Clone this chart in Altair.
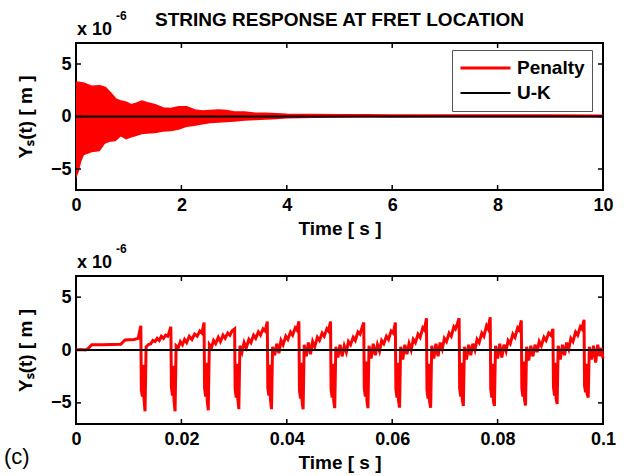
import altair as alt
import pandas as pd

# ---------------- data ----------------
# top panel: envelope of the dense Penalty oscillation (x 1e-6 m)
top_t = [0, 0.05, 0.1, 0.15, 0.3, 0.45, 0.55, 0.65, 0.75, 0.85, 0.95,
         1.05, 1.15, 1.25, 1.35, 1.5, 1.65, 1.8, 1.95,
         2.1, 2.25, 2.4, 2.55, 2.7, 2.85,
         3.0, 3.2, 3.4, 3.6, 3.8,
         4.0, 4.5, 5.0, 5.5, 6.0, 7.0, 8.0, 9.0, 10.0]
top_upper = [3.2, 3.2, 3.15, 3.1, 2.8, 2.85, 2.7, 2.2, 1.6, 1.4, 1.3,
             1.05, 1.2, 1.4, 1.25, 1.05, 0.75, 0.7, 0.85,
             0.85, 0.55, 0.45, 0.5, 0.55, 0.5,
             0.35, 0.35, 0.25, 0.25, 0.2,
             0.15, 0.13, 0.1, 0.1, 0.08, 0.07, 0.06, 0.06, 0.05]
top_lower = [-5.9, -5.3, -4.3, -3.7, -3.4, -3.3, -2.6, -2.4, -2.35, -1.9, -2.2,
             -2.0, -1.85, -1.7, -1.65, -1.6, -1.45, -1.4, -1.25,
             -1.0, -0.9, -0.75, -0.65, -0.6, -0.55,
             -0.5, -0.4, -0.35, -0.3, -0.25,
             -0.2, -0.15, -0.12, -0.1, -0.1, -0.08, -0.07, -0.06, -0.06]

# U-K solution (zero response)
uk_top_t = [0, 10]
uk_top_y = [0, 0]
uk_bot_t = [0, 0.1]
uk_bot_y = [0, 0]

# bottom panel: Penalty response, first 0.1 s (time in ms, value x 1e-6 m)
bot_t_ms = [
    0, 1.0, 1.8, 2.2, 3.0, 5.0, 8.5, 9.3, 11.0, 11.8,
    12.3, 12.4, 12.6, 12.75, 12.9, 13.1, 13.3, 13.7, 14.2, 14.6, 15.0, 15.4, 15.8, 16.2, 16.6, 17.0, 17.4, 17.7,
    18.0, 18.1, 18.3, 18.45, 18.6, 18.8, 19.0, 19.4, 19.8, 20.2, 20.6, 21.0, 21.5, 22.0, 22.5, 23.0, 23.5, 23.9,
    24.3, 24.4, 24.6, 24.75, 24.9, 25.1, 25.3, 25.7, 26.1, 26.5, 27.0, 27.4, 27.9, 28.3, 28.8, 29.2, 29.6,
    30.1, 30.2, 30.4, 30.55, 30.7, 30.9, 31.1, 31.5, 31.9, 32.3, 32.8, 33.2, 33.7, 34.1, 34.6, 35.0, 35.5, 35.9,
    36.3, 36.4, 36.6, 36.75, 36.9, 37.1, 37.3, 37.7, 38.1, 38.5, 38.9, 39.3, 39.8, 40.2, 40.7, 41.1, 41.6, 41.9,
    42.3, 42.4, 42.6, 42.75, 42.9, 43.1, 43.3, 43.7, 44.1, 44.5, 44.9, 45.3, 45.8, 46.2, 46.7, 47.1, 47.6, 47.9,
    48.3, 48.4, 48.6, 48.75, 48.9, 49.1, 49.3, 49.7, 50.1, 50.5, 50.9, 51.3, 51.7, 52.1, 52.6, 53.0, 53.5, 53.9, 54.2,
    54.6, 54.7, 54.9, 55.05, 55.2, 55.4, 55.6, 56.0, 56.4, 56.8, 57.2, 57.6, 58.0, 58.4, 58.9, 59.3, 59.8, 60.2,
    60.6, 60.7, 60.9, 61.05, 61.2, 61.4, 61.6, 62.0, 62.4, 62.8, 63.2, 63.6, 64.0, 64.4, 64.9, 65.3, 65.8, 66.1,
    66.5, 66.6, 66.8, 66.95, 67.1, 67.3, 67.5, 67.9, 68.3, 68.7, 69.1, 69.5, 69.9, 70.3, 70.8, 71.2, 71.7, 72.0, 72.3,
    72.7, 72.8, 73.0, 73.15, 73.3, 73.5, 73.7, 74.1, 74.5, 74.9, 75.3, 75.7, 76.1, 76.5, 77.0, 77.4, 77.9, 78.2,
    78.6, 78.7, 78.9, 79.05, 79.2, 79.4, 79.6, 80.0, 80.4, 80.8, 81.2, 81.6, 82.0, 82.4, 82.9, 83.3, 83.8, 84.1,
    84.5, 84.6, 84.8, 84.95, 85.1, 85.3, 85.5, 85.9, 86.3, 86.7, 87.1, 87.5, 87.9, 88.3, 88.8, 89.2, 89.7, 90.1,
    90.5, 90.6, 90.8, 90.95, 91.1, 91.3, 91.5, 91.9, 92.3, 92.7, 93.1, 93.5, 93.9, 94.3, 94.8, 95.2, 95.7, 96.0,
    96.4, 96.5, 96.7, 96.85, 97.0, 97.2, 97.4, 97.8, 98.2, 98.6, 99.0, 99.4, 99.7, 100.0,
]
bot_y = [
    0, 0.05, 0.0, 0.1, 0.5, 0.5, 0.55, 0.95, 1.0, 1.1,
    2.3, -3.8, -4.4, -1.4, -4.6, -5.8, 0.3, 0.5, 0.6, 0.9, 0.8, 1.1, 0.9, 1.3, 1.1, 1.4, 1.3, 1.7,
    2.2, -3.5, -4.3, -1.5, -4.8, -5.8, 0.4, 0.2, 0.8, 0.5, 1.0, 0.7, 1.3, 1.0, 1.5, 1.3, 1.8, 1.6,
    2.6, -3.6, -4.4, -1.2, -4.8, -5.7, 0.5, 0.2, 0.9, 0.6, 1.2, 0.8, 1.4, 1.1, 1.6, 1.4, 1.8,
    2.0, -3.7, -4.5, -1.3, -4.6, -5.6, 0.4, -0.2, 0.7, 0.2, 1.0, 0.7, 1.4, 1.1, 1.7, 1.4, 2.0, 1.8,
    2.7, -3.6, -4.3, -1.4, -4.7, -5.6, 0.3, -0.5, 0.6, -0.3, 0.9, 0.5, 1.3, 1.0, 1.7, 1.4, 2.1, 1.9,
    2.7, -3.8, -4.6, -1.2, -4.9, -5.6, 0.5, -0.6, 0.7, -0.4, 0.8, 0.3, 1.2, 0.9, 1.6, 1.3, 2.0, 1.8,
    2.7, -3.7, -4.5, -1.3, -4.8, -5.5, 0.3, -0.7, 0.5, -0.6, 0.4, -0.2, 0.8, 0.5, 1.2, 0.9, 1.7, 1.5, 2.0,
    2.6, -3.6, -4.4, -1.1, -4.8, -5.5, 0.4, -0.8, 0.6, -0.5, 0.5, -0.1, 0.9, 0.6, 1.3, 1.0, 1.8, 1.6,
    2.6, -3.7, -4.5, -1.2, -4.8, -5.45, 0.3, -0.9, 0.5, -0.4, 0.6, 0.0, 1.0, 0.7, 1.5, 1.2, 2.1, 1.9,
    3.0, -3.8, -4.6, -1.3, -4.9, -5.45, 0.4, -0.8, 0.6, -0.6, 0.7, 0.1, 1.1, 0.8, 1.6, 1.3, 2.2, 2.0, 2.4,
    3.0, -3.6, -4.4, -1.2, -4.7, -5.3, 0.3, -0.9, 0.5, -0.5, 0.6, 0.0, 1.0, 0.7, 1.6, 1.3, 2.3, 2.0,
    3.1, -3.7, -4.5, -1.3, -4.8, -5.3, 0.4, -0.8, 0.6, -0.7, 0.5, -0.1, 0.9, 0.6, 1.5, 1.2, 2.1, 1.9,
    2.8, -3.6, -4.4, -1.1, -4.7, -5.25, 0.3, -1.0, 0.4, -0.6, 0.5, -0.2, 0.8, 0.4, 1.2, 0.9, 1.6, 1.4,
    2.0, -3.5, -4.3, -1.2, -4.6, -5.1, 0.4, -0.9, 0.5, -0.5, 0.7, 0.1, 1.1, 0.8, 1.7, 1.4, 2.2, 2.0,
    2.85, -3.4, -4.0, -1.3, -4.2, -4.5, 0.3, -0.9, 0.4, -1.2, 0.5, -0.6, 0.2, -0.8,
]

series_names = ["Penalty", "U-K"]
series_colors = ["#ff0000", "#000000"]
series_widths = [3, 2]

top_xticks = [0, 2, 4, 6, 8, 10]
bot_xticks = [0, 0.02, 0.04, 0.06, 0.08, 0.1]
yticks = [-5, 0, 5]
scale_label = ["x 10"]
scale_exp = ["-6"]
title_text = ["STRING RESPONSE AT FRET LOCATION"]
xtitle = "Time [ s ]"
ytitle = "Y\u209b(t) [ m ]"
panel_tag = ["(c)"]

# ---------------- layout constants ----------------
W = 527
H1 = 147
H2 = 148
GAP = 86
FONT = "Liberation Sans"
TL = 5  # inward tick length

ys = alt.Scale(domain=[-7, 7], nice=False, zero=False)


def x_axis(vals, fmt):
    return alt.Axis(values=vals, format=fmt, title=xtitle, ticks=False, domain=False,
                    grid=False, labelFont=FONT, labelFontSize=18, labelFontWeight="bold",
                    labelColor="black", labelPadding=6, labelFlush=False,
                    titleFont=FONT, titleFontSize=19, titleFontWeight="bold",
                    titleColor="black", titlePadding=5)


y_axis = alt.Axis(values=yticks, title=ytitle, ticks=False, domain=False, grid=False,
                  labelFont=FONT, labelFontSize=18, labelFontWeight="bold",
                  labelColor="black", labelPadding=5, labelFlush=False,
                  titleFont=FONT, titleFontSize=19, titleFontWeight="bold",
                  titleColor="black", titlePadding=15)


def tick_layers(xvals, xs, H, xax):
    dfx = pd.DataFrame({"t": xvals[1:-1]})
    dfy = pd.DataFrame({"y": yticks})
    bt = alt.Chart(dfx).mark_rule(color="black", strokeWidth=1.5).encode(
        x=alt.X("t:Q", scale=xs, axis=xax), y=alt.value(H), y2=alt.value(H - TL))
    tt = alt.Chart(dfx).mark_rule(color="black", strokeWidth=1.5).encode(
        x=alt.X("t:Q", scale=xs, axis=xax), y=alt.value(0), y2=alt.value(TL))
    lt = alt.Chart(dfy).mark_rule(color="black", strokeWidth=1.5).encode(
        y=alt.Y("y:Q", scale=ys, axis=y_axis), x=alt.value(0), x2=alt.value(TL))
    rt = alt.Chart(dfy).mark_rule(color="black", strokeWidth=1.5).encode(
        y=alt.Y("y:Q", scale=ys, axis=y_axis), x=alt.value(W - TL), x2=alt.value(W))
    return [bt, tt, lt, rt]


def exp_layers():
    a = alt.Chart(pd.DataFrame({"s": scale_label})).mark_text(
        font=FONT, fontSize=18, fontWeight="bold", align="left", baseline="alphabetic",
        color="black").encode(text="s:N", x=alt.value(1), y=alt.value(-8))
    b = alt.Chart(pd.DataFrame({"s": scale_exp})).mark_text(
        font=FONT, fontSize=12, fontWeight="bold", align="left", baseline="alphabetic",
        color="black").encode(text="s:N", x=alt.value(40), y=alt.value(-23))
    return [a, b]


# ---------------- top panel ----------------
xs1 = alt.Scale(domain=[0, 10], nice=False, zero=False)
xax1 = x_axis(top_xticks, "d")
df_top = pd.DataFrame({"t": top_t, "upper": top_upper, "lower": top_lower})
df_lines = pd.concat([
    pd.DataFrame({"t": top_t, "y": top_upper, "series": "Penalty"}),
    pd.DataFrame({"t": uk_top_t, "y": uk_top_y, "series": "U-K"}),
], ignore_index=True)

area = alt.Chart(df_top).mark_area(color="#ff0000").encode(
    x=alt.X("t:Q", scale=xs1, axis=xax1),
    y=alt.Y("upper:Q", scale=ys, axis=y_axis),
    y2="lower:Q",
)

legend = alt.Legend(orient="none", legendX=376, legendY=7, title=None,
                    symbolType="stroke", symbolSize=2500,
                    labelFont=FONT, labelFontSize=19, labelFontWeight="bold",
                    labelColor="black", strokeColor="#555555", fillColor="white",
                    padding=7, rowPadding=3, labelOffset=5, clipHeight=22)

lines1 = alt.Chart(df_lines).mark_line().encode(
    x=alt.X("t:Q", scale=xs1, axis=xax1),
    y=alt.Y("y:Q", scale=ys, axis=y_axis),
    color=alt.Color("series:N", scale=alt.Scale(domain=series_names, range=series_colors),
                    legend=legend),
    strokeWidth=alt.StrokeWidth("series:N",
                                scale=alt.Scale(domain=series_names, range=series_widths),
                                legend=legend),
    order=alt.Order("series:N"),
)

title_mark = alt.Chart(pd.DataFrame({"s": title_text})).mark_text(
    font=FONT, fontSize=19, fontWeight="bold", align="center", baseline="alphabetic",
    color="black").encode(text="s:N", x=alt.value(W / 2), y=alt.value(-17))

top = alt.layer(area, lines1, *tick_layers(top_xticks, xs1, H1, xax1), *exp_layers(),
                title_mark).properties(width=W, height=H1)

# ---------------- bottom panel ----------------
xs2 = alt.Scale(domain=[0, 0.1], nice=False, zero=False)
xax2 = x_axis(bot_xticks, ".2~f")
df_bot = pd.DataFrame({"t": [v / 1000 for v in bot_t_ms], "y": bot_y})
df_bot_uk = pd.DataFrame({"t": uk_bot_t, "y": uk_bot_y})

pen2 = alt.Chart(df_bot).mark_line(color="#ff0000", strokeWidth=3, strokeJoin="miter").encode(
    x=alt.X("t:Q", scale=xs2, axis=xax2),
    y=alt.Y("y:Q", scale=ys, axis=y_axis),
)
uk2 = alt.Chart(df_bot_uk).mark_line(color="#000000", strokeWidth=2).encode(
    x=alt.X("t:Q", scale=xs2, axis=xax2), y=alt.Y("y:Q", scale=ys, axis=y_axis))

tag = alt.Chart(pd.DataFrame({"s": panel_tag})).mark_text(
    font=FONT, fontSize=22, align="left", baseline="alphabetic", color="black").encode(
    text="s:N", x=alt.value(-72), y=alt.value(188))

bottom = alt.layer(pen2, uk2, *tick_layers(bot_xticks, xs2, H2, xax2), *exp_layers(),
                   tag).properties(width=W, height=H2)

chart = alt.vconcat(top, bottom, spacing=GAP, bounds="flush").resolve_scale(
    color="independent", strokeWidth="independent", x="independent"
).resolve_legend(color="independent", strokeWidth="independent").configure_view(
    stroke="black", strokeWidth=2
).properties(
    padding={"left": 3, "top": 9, "right": 5, "bottom": 5},
    background="white",
)

chart.save("out.html", embed_options={"renderer": "svg", "actions": False})
